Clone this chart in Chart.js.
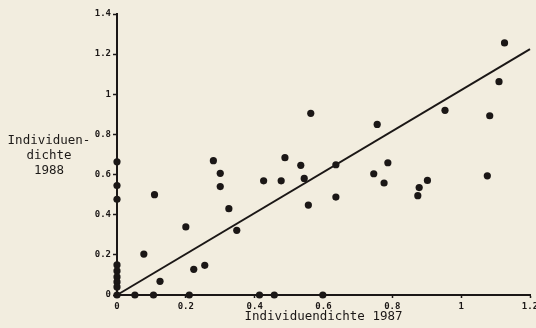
<!DOCTYPE html>
<html>
<head>
<meta charset="utf-8">
<script src="https://cdn.jsdelivr.net/npm/chart.js@4.4.1/dist/chart.umd.min.js"></script>
<style>
  html, body { margin: 0; padding: 0; background: #f2eddf; overflow: hidden; }
  #wrap { position: relative; width: 536px; height: 328px; overflow: hidden; }
  #chart { position: absolute; left: 0; top: 0; }
  #ytitle {
    position: absolute; left: 0; top: 132px; width: 98px;
    text-align: center; font-family: "DejaVu Sans Mono", monospace;
    font-size: 12.5px; line-height: 15px; color: #1d1a18;
  }
</style>
</head>
<body>
<div id="wrap">
  <canvas id="chart" width="542" height="328"></canvas>
  <div id="ytitle">Individuen-<br>dichte<br>1988</div>
</div>
<script>
// Individuendichte 1987 (x) vs 1988 (y)
const density1987 = [
  0, 0, 0, 0, 0, 0, 0, 0, 0,
  0.052, 0.106, 0.21, 0.414, 0.457, 0.598,
  0.109, 0.20, 0.078, 0.125, 0.223, 0.255,
  0.28, 0.30, 0.30, 0.325, 0.348,
  0.426, 0.477, 0.488, 0.534, 0.544, 0.556, 0.563,
  0.636, 0.636, 0.746, 0.756, 0.776, 0.787,
  0.874, 0.878, 0.902, 0.953, 1.076, 1.083, 1.11, 1.126
];
const density1988 = [
  0.664, 0.545, 0.477, 0.15, 0.12, 0.09, 0.065, 0.04, 0,
  0, 0, 0, 0, 0, 0,
  0.50, 0.339, 0.204, 0.068, 0.128, 0.148,
  0.669, 0.606, 0.54, 0.43, 0.322,
  0.569, 0.569, 0.684, 0.646, 0.581, 0.448, 0.905,
  0.649, 0.488, 0.604, 0.85, 0.558, 0.659,
  0.495, 0.535, 0.571, 0.92, 0.594, 0.893, 1.063, 1.256
];
// regression line end points
const lineX = [0, 1.2];
const lineY = [0, 1.225];

const ink = '#1b1716';
const tickFont = { family: 'DejaVu Sans Mono', size: 9, weight: 'bold' };
const fmt = v => String(+v.toFixed(1));

const points = density1987.map((x, i) => ({ x: x, y: density1988[i] }));
const fit = lineX.map((x, i) => ({ x: x, y: lineY[i] }));

const ctx = document.querySelector('#chart').getContext('2d');
const chart = new Chart(ctx, {
  type: 'scatter',
  data: {
    datasets: [{
      data: points,
      pointRadius: 3.6,
      pointHoverRadius: 3.6,
      backgroundColor: ink,
      borderWidth: 0,
      clip: false
    }, {
      type: 'line',
      data: fit,
      borderColor: ink,
      borderWidth: 2,
      pointRadius: 0,
      fill: false,
      clip: false
    }]
  },
  options: {
    responsive: false,
    animation: false,
    layout: { padding: { top: 14, right: 12, left: 0, bottom: 0 } },
    scales: {
      x: {
        type: 'linear',
        min: 0,
        max: 1.2,
        ticks: { stepSize: 0.2, color: ink, font: tickFont, padding: 3, maxRotation: 0, callback: fmt },
        grid: { drawOnChartArea: false, color: ink, tickLength: 3, tickWidth: 1.5 },
        border: { color: ink, width: 2 },
        title: {
          display: true,
          text: 'Individuendichte 1987',
          color: ink,
          font: { family: 'DejaVu Sans Mono', size: 12.5 },
          padding: { top: 0, bottom: 4 }
        },
        afterFit: s => { s.height = 33; }
      },
      y: {
        min: 0,
        max: 1.4,
        ticks: { stepSize: 0.2, color: ink, font: tickFont, padding: 2, callback: fmt },
        grid: { drawOnChartArea: false, color: ink, tickLength: 4, tickWidth: 1.5 },
        border: { color: ink, width: 2 },
        afterFit: s => { s.width = 117; }
      }
    },
    plugins: {
      legend: { display: false },
      tooltip: { enabled: false }
    }
  }
});
</script>
</body>
</html>
